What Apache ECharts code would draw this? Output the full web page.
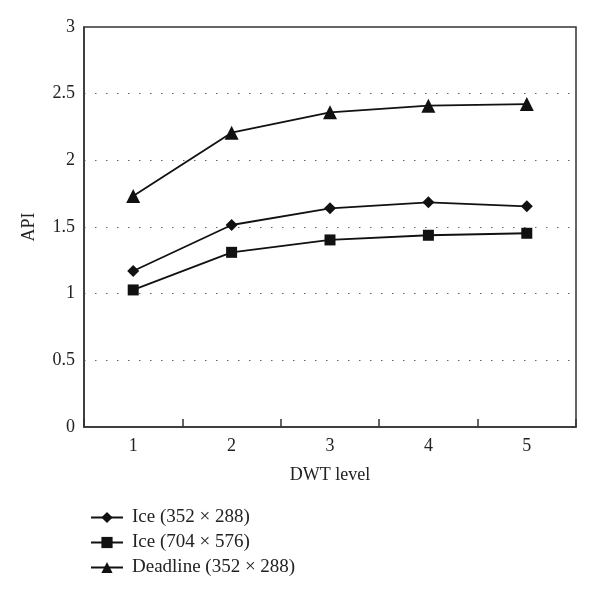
<!DOCTYPE html>
<html>
<head>
<meta charset="utf-8">
<script src="https://cdn.jsdelivr.net/npm/echarts@6/dist/echarts.min.js"></script>
<style>html,body{margin:0;padding:0;background:#fff;}#c{width:600px;height:597px;}</style>
</head>
<body>
<div id="c"></div>
<script>
var categories = ['1', '2', '3', '4', '5'];
var ice352 = [1.17, 1.515, 1.64, 1.685, 1.655];
var ice704 = [1.028, 1.31, 1.403, 1.438, 1.453];
var deadline = [1.733, 2.207, 2.36, 2.41, 2.422];
var seriesNames = ['Ice (352 \u00d7 288)', 'Ice (704 \u00d7 576)', 'Deadline (352 \u00d7 288)'];

var font = '"Liberation Serif", "DejaVu Serif", serif';
var chart = echarts.init(document.getElementById('c'), null, {renderer: 'canvas'});
function mk(name, data, symbol, size) {
  return {
    name: name, type: 'line', data: data, symbol: symbol, symbolSize: size,
    lineStyle: {color: '#111', width: 1.8},
    itemStyle: {color: '#111'},
    animation: false
  };
}
chart.setOption({
  backgroundColor: '#fff',
  animation: false,
  grid: {left: 84, right: 24, top: 27, bottom: 170, show: true, borderColor: '#333', borderWidth: 1.5, backgroundColor: 'transparent'},
  legend: {
    orient: 'vertical', left: 85, top: 503,
    itemWidth: 32, itemHeight: 14, itemGap: 6,
    textStyle: {fontFamily: font, fontSize: 19, lineHeight: 19, color: '#222', padding: [0,0,0,4]},
    data: seriesNames
  },
  xAxis: {
    type: 'category', data: categories, boundaryGap: true,
    name: 'DWT level', nameLocation: 'middle', nameGap: 39,
    nameTextStyle: {fontFamily: font, fontSize: 18, color: '#222'},
    axisLine: {lineStyle: {color: '#333', width: 1.5}},
    axisTick: {show: true, inside: true, length: 8, lineStyle: {color: '#333', width: 1.5}},
    axisLabel: {fontFamily: font, fontSize: 18, color: '#222', margin: 10},
    splitLine: {show: false}
  },
  yAxis: {
    type: 'value', min: 0, max: 3, interval: 0.5,
    name: 'API', nameLocation: 'middle', nameGap: 46, nameRotate: 90,
    nameTextStyle: {fontFamily: font, fontSize: 18, color: '#222'},
    axisLine: {show: true, lineStyle: {color: '#333', width: 1.5}},
    axisTick: {show: false},
    axisLabel: {fontFamily: font, fontSize: 18, color: '#222', margin: 9},
    splitLine: {show: true, lineStyle: {color: '#666', type: [1.5, 9.5], width: 1.2}}
  },
  series: [
    mk(seriesNames[0], ice352, 'diamond', 12),
    mk(seriesNames[1], ice704, 'rect', 11),
    mk(seriesNames[2], deadline, 'triangle', 14)
  ]
});
</script>
</body>
</html>
